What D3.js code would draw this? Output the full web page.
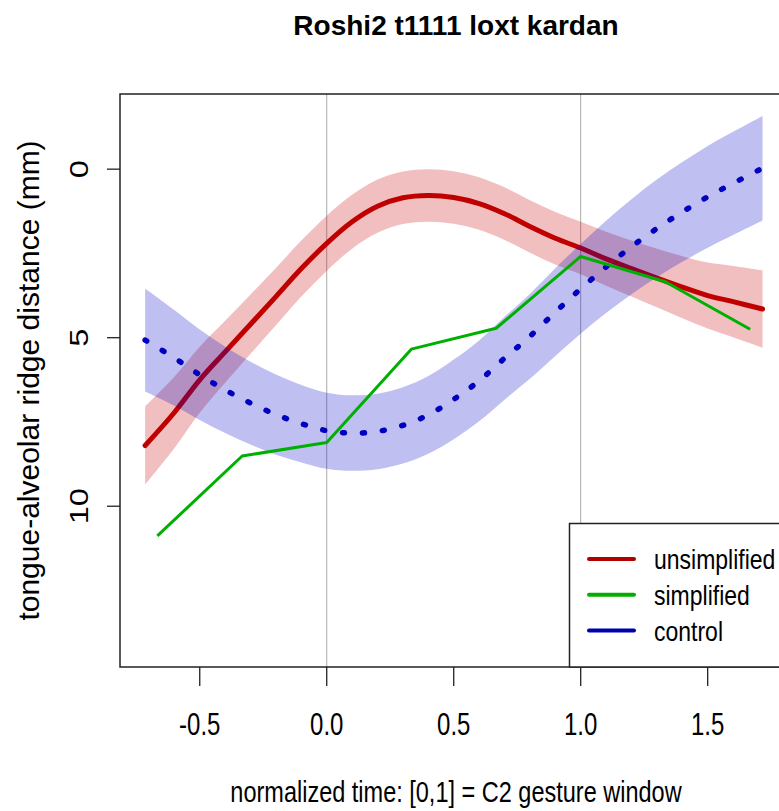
<!DOCTYPE html>
<html><head><meta charset="utf-8">
<script src="https://cdn.jsdelivr.net/npm/d3@7"></script>
<style>body{margin:0;background:#fff}svg{display:block}text{font-family:"Liberation Sans",Arial,sans-serif;fill:#000}</style>
</head><body>
<script>
const title = "Roshi2 t1111 loxt kardan";
const xLabel = "normalized time: [0,1] = C2 gesture window";
const yLabel = "tongue-alveolar ridge distance (mm)";
const xTicks = [-0.5, 0, 0.5, 1, 1.5];
const xTickLabels = ["-0.5", "0.0", "0.5", "1.0", "1.5"];
const yTicks = [0, 5, 10];
const vLines = [0, 1];
// smooth time grid
const tGrid = [-0.715,-0.6,-0.5,-0.4,-0.3,-0.2,-0.1,0,0.1,0.2,0.3,0.4,0.5,0.6,0.7,0.8,0.9,1.0,1.1,1.2,1.3,1.4,1.5,1.6,1.716];
const unsimplified = [8.2,7.22,6.25,5.42,4.6,3.78,2.95,2.2,1.56,1.1,0.85,0.78,0.84,1.02,1.32,1.7,2.05,2.34,2.66,2.95,3.23,3.5,3.75,3.93,4.15];
const unsimplifiedCI = [1.16,1.06,0.98,0.92,0.88,0.85,0.83,0.82,0.8,0.79,0.78,0.78,0.78,0.78,0.78,0.78,0.78,0.78,0.8,0.83,0.87,0.92,0.98,1.06,1.15];
const control = [5.07,5.6,6.1,6.55,6.94,7.28,7.55,7.76,7.83,7.78,7.6,7.29,6.83,6.28,5.61,4.96,4.24,3.55,2.9,2.3,1.76,1.27,0.82,0.42,-0.03];
const controlCI = [1.53,1.42,1.34,1.28,1.23,1.19,1.15,1.13,1.12,1.12,1.13,1.15,1.18,1.2,1.23,1.26,1.3,1.33,1.37,1.41,1.45,1.48,1.51,1.53,1.55];
const simpT = [-0.667,-0.333,0,0.333,0.667,1.0,1.333,1.667];
const simplified = [10.88,8.51,8.11,5.34,4.72,2.59,3.34,4.75];
const legendLabels = ["unsimplified","simplified","control"];

const W = 779, H = 811;
const svg = d3.select("body").append("svg").attr("width", W).attr("height", H);
const L = 120, T = 94, R = 792, B = 667;
const x = d3.scaleLinear().domain([-0.814, 1.832]).range([L, R]);
const y = d3.scaleLinear().domain([-2.23, 14.77]).range([T, B]);

const redCol = "#c00000", redBand = "rgba(200,0,0,0.25)";
const blueCol = "#0000c0", blueBand = "rgba(0,0,200,0.25)";
const greenCol = "#00b000";

svg.append("clipPath").attr("id","clip").append("rect").attr("x",L).attr("y",T).attr("width",R-L).attr("height",B-T);
const g = svg.append("g").attr("clip-path","url(#clip)");

g.selectAll("line.v").data(vLines).enter().append("line")
  .attr("x1", d=>x(d)).attr("x2", d=>x(d)).attr("y1", T).attr("y2", B)
  .attr("stroke", "#a8a8a8").attr("stroke-width", 1);

const redData = tGrid.map((t,i)=>({t, v:unsimplified[i], se:unsimplifiedCI[i]}));
const blueData = tGrid.map((t,i)=>({t, v:control[i], se:controlCI[i]}));
const area = d3.area().x(d=>x(d.t)).y0(d=>y(d.v-d.se)).y1(d=>y(d.v+d.se)).curve(d3.curveCatmullRom);
const line = d3.line().x(d=>x(d.t)).y(d=>y(d.v)).curve(d3.curveCatmullRom);

g.append("path").datum(redData).attr("d", area).attr("fill", redBand);
g.append("path").datum(redData).attr("d", line).attr("fill","none").attr("stroke", redCol).attr("stroke-width", 5).attr("stroke-linecap","round");
g.append("path").datum(blueData).attr("d", area).attr("fill", blueBand);
g.append("path").datum(blueData).attr("d", line).attr("fill","none").attr("stroke", blueCol).attr("stroke-width", 5.5)
  .attr("stroke-linecap","round").attr("stroke-dasharray","2,18");
const simpData = simpT.map((t,i)=>({t, v:simplified[i]}));
g.append("path").datum(simpData).attr("d", d3.line().x(d=>x(d.t)).y(d=>y(d.v)))
  .attr("fill","none").attr("stroke", greenCol).attr("stroke-width", 3).attr("stroke-linejoin","round");

// box
svg.append("rect").attr("x",L).attr("y",T).attr("width",R-L).attr("height",B-T)
  .attr("fill","none").attr("stroke","#222").attr("stroke-width",1.5);

// axes ticks
svg.selectAll("line.xt").data(xTicks).enter().append("line")
  .attr("x1",d=>x(d)).attr("x2",d=>x(d)).attr("y1",B).attr("y2",B+19).attr("stroke","#222").attr("stroke-width",1.3);
svg.selectAll("line.yt").data(yTicks).enter().append("line")
  .attr("y1",d=>y(d)).attr("y2",d=>y(d)).attr("x1",L-13).attr("x2",L).attr("stroke","#222").attr("stroke-width",1.3);

const sy = 1.27;
svg.selectAll("text.xt").data(xTicks).enter().append("text")
  .attr("transform", d=>`translate(${x(d)},735) scale(1,${sy})`)
  .attr("text-anchor","middle").attr("font-size",24).text((d,i)=>xTickLabels[i]);
svg.selectAll("text.yt").data(yTicks).enter().append("text")
  .attr("transform", d=>`translate(88,${y(d)}) rotate(-90) scale(1.3,1)`)
  .attr("text-anchor","middle").attr("font-size",25).text(d=>d);

svg.append("text").attr("transform",`translate(456,35)`).attr("text-anchor","middle")
  .attr("font-size",28).attr("font-weight","bold").text(title);
svg.append("text").attr("transform",`translate(456,802) scale(1,${sy})`).attr("text-anchor","middle")
  .attr("font-size",23.5).text(xLabel);
svg.append("text").attr("transform",`translate(39,${(T+B)/2}) rotate(-90)`).attr("text-anchor","middle")
  .attr("font-size",30).text(yLabel);

// legend
const lg = svg.append("g");
lg.append("rect").attr("x",569.5).attr("y",523.5).attr("width",260).attr("height",B-523.5)
  .attr("fill","#fff").attr("stroke","#222").attr("stroke-width",1.5);
const legCols = ["#b00000", "#00b000", "#0000b0"];
const ly = d3.scaleBand().domain(legendLabels).range([541, 648.5]);
legendLabels.forEach((lab,i)=>{
  const yy = ly(lab) + ly.bandwidth()/2;
  lg.append("line").attr("x1",589).attr("x2",634).attr("y1",yy).attr("y2",yy)
    .attr("stroke",legCols[i]).attr("stroke-width",4).attr("stroke-linecap","round");
  lg.append("text").attr("transform",`translate(654,${yy+10}) scale(1,1.2)`).attr("font-size",23).text(lab);
});
</script>
</body></html>
